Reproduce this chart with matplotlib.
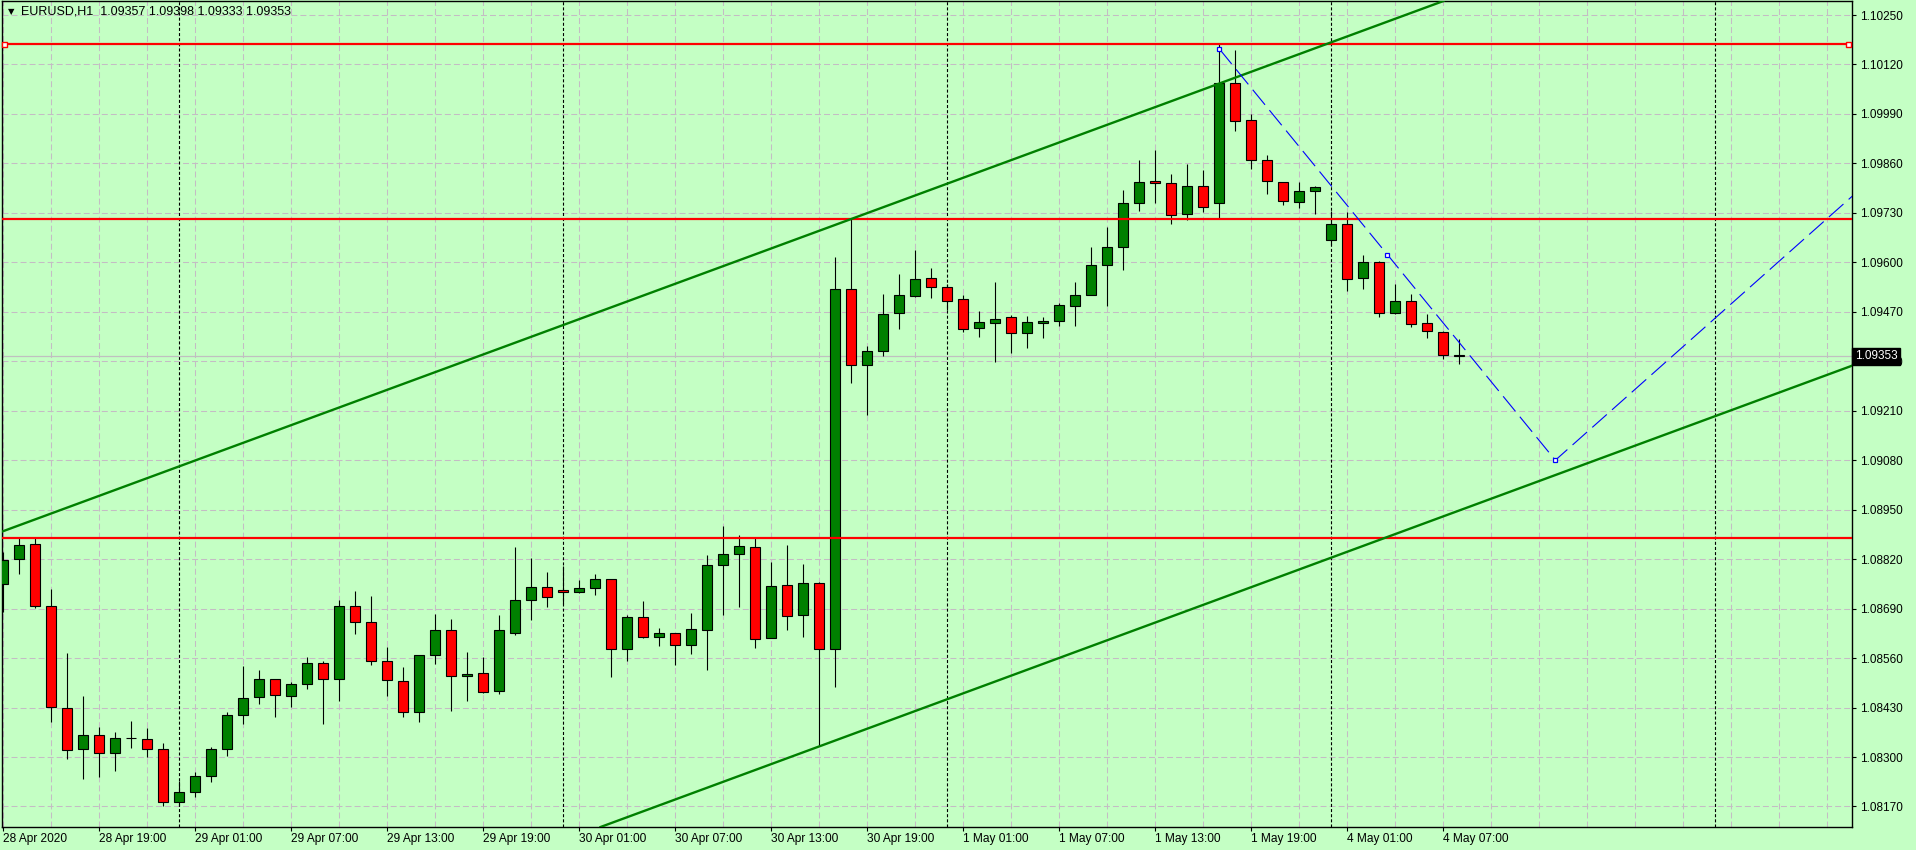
import matplotlib
matplotlib.use('Agg')
import matplotlib.pyplot as plt
import matplotlib.transforms as mtransforms

# EURUSD H1 bars, 28 Apr 13:00 .. 4 May 08:00
opens = [1.08755, 1.08820, 1.08860, 1.08697, 1.08429, 1.08321, 1.08358, 1.08311, 1.08350, 1.08348,
         1.08321, 1.08182, 1.08208, 1.08250, 1.08321, 1.08411, 1.08458, 1.08505, 1.08461, 1.08492,
         1.08547, 1.08505, 1.08697, 1.08655, 1.08553, 1.08500, 1.08419, 1.08568, 1.08634, 1.08513,
         1.08521, 1.08474, 1.08626, 1.08713, 1.08747, 1.08739, 1.08734, 1.08744, 1.08768, 1.08584,
         1.08668, 1.08616, 1.08626, 1.08595, 1.08634, 1.08805, 1.08834, 1.08852, 1.08613, 1.08752,
         1.08673, 1.08757, 1.08583, 1.09530, 1.09330, 1.09367, 1.09467, 1.09512, 1.09559, 1.09535,
         1.09504, 1.09427, 1.09441, 1.09456, 1.09414, 1.09441, 1.09446, 1.09485, 1.09514, 1.09593,
         1.09640, 1.09756, 1.09814, 1.09809, 1.09727, 1.09800, 1.09756, 1.10071, 1.09974, 1.09869,
         1.09811, 1.09758, 1.09787, 1.09659, 1.09701, 1.09559, 1.09601, 1.09467, 1.09498, 1.09441,
         1.09417, 1.09357]
highs = [1.08839, 1.08878, 1.08878, 1.08742, 1.08574, 1.08461, 1.08379, 1.08366, 1.08395, 1.08377,
         1.08337, 1.08236, 1.08261, 1.08327, 1.08419, 1.08540, 1.08529, 1.08505, 1.08497, 1.08563,
         1.08553, 1.08713, 1.08737, 1.08724, 1.08590, 1.08537, 1.08568, 1.08676, 1.08663, 1.08576,
         1.08564, 1.08673, 1.08852, 1.08823, 1.08786, 1.08802, 1.08765, 1.08781, 1.08768, 1.08673,
         1.08710, 1.08639, 1.08626, 1.08679, 1.08831, 1.08907, 1.08884, 1.08878, 1.08813, 1.08857,
         1.08807, 1.08760, 1.09614, 1.09714, 1.09381, 1.09518, 1.09570, 1.09633, 1.09585, 1.09543,
         1.09514, 1.09472, 1.09548, 1.09462, 1.09459, 1.09456, 1.09493, 1.09549, 1.09640, 1.09693,
         1.09790, 1.09869, 1.09895, 1.09832, 1.09858, 1.09842, 1.10175, 1.10158, 1.09990, 1.09883,
         1.09811, 1.09811, 1.09800, 1.09735, 1.09732, 1.09619, 1.09604, 1.09543, 1.09517, 1.09464,
         1.09420, 1.09398]
lows = [1.08680, 1.08780, 1.08691, 1.08391, 1.08294, 1.08242, 1.08247, 1.08263, 1.08323, 1.08299,
        1.08172, 1.08172, 1.08195, 1.08235, 1.08302, 1.08387, 1.08439, 1.08404, 1.08431, 1.08479,
        1.08387, 1.08446, 1.08622, 1.08541, 1.08460, 1.08405, 1.08392, 1.08545, 1.08420, 1.08446,
        1.08469, 1.08466, 1.08621, 1.08659, 1.08694, 1.08702, 1.08731, 1.08725, 1.08511, 1.08552,
        1.08613, 1.08591, 1.08541, 1.08571, 1.08530, 1.08674, 1.08695, 1.08586, 1.08613, 1.08634,
        1.08616, 1.08328, 1.08483, 1.09283, 1.09200, 1.09353, 1.09426, 1.09509, 1.09505, 1.09475,
        1.09417, 1.09405, 1.09337, 1.09361, 1.09374, 1.09400, 1.09433, 1.09434, 1.09514, 1.09484,
        1.09579, 1.09735, 1.09756, 1.09701, 1.09711, 1.09731, 1.09714, 1.09944, 1.09844, 1.09779,
        1.09752, 1.09742, 1.09726, 1.09646, 1.09524, 1.09529, 1.09456, 1.09464, 1.09430, 1.09400,
        1.09346, 1.09333]
closes = [1.08818, 1.08857, 1.08697, 1.08431, 1.08319, 1.08358, 1.08311, 1.08350, 1.08350, 1.08321,
          1.08182, 1.08208, 1.08250, 1.08321, 1.08411, 1.08455, 1.08505, 1.08463, 1.08492, 1.08547,
          1.08505, 1.08697, 1.08655, 1.08553, 1.08503, 1.08419, 1.08568, 1.08634, 1.08513, 1.08518,
          1.08471, 1.08634, 1.08713, 1.08747, 1.08721, 1.08734, 1.08744, 1.08768, 1.08584, 1.08668,
          1.08616, 1.08626, 1.08595, 1.08637, 1.08805, 1.08834, 1.08855, 1.08610, 1.08750, 1.08671,
          1.08757, 1.08584, 1.09530, 1.09330, 1.09367, 1.09464, 1.09514, 1.09556, 1.09535, 1.09498,
          1.09425, 1.09443, 1.09451, 1.09414, 1.09443, 1.09446, 1.09488, 1.09514, 1.09593, 1.09640,
          1.09756, 1.09811, 1.09809, 1.09724, 1.09800, 1.09745, 1.10071, 1.09971, 1.09869, 1.09814,
          1.09761, 1.09787, 1.09798, 1.09701, 1.09556, 1.09601, 1.09467, 1.09498, 1.09438, 1.09420,
          1.09356, 1.09353]

price_ticks = [1.08170, 1.08300, 1.08430, 1.08560, 1.08690, 1.08820, 1.08950, 1.09080,
               1.09210, 1.09340, 1.09470, 1.09600, 1.09730, 1.09860, 1.09990, 1.10120, 1.10250]
time_bars = [0, 6, 12, 18, 24, 30, 36, 42, 48, 54, 60, 66, 72, 78, 84, 90]
time_labels = ['28 Apr 2020', '28 Apr 19:00', '29 Apr 01:00', '29 Apr 07:00', '29 Apr 13:00',
               '29 Apr 19:00', '30 Apr 01:00', '30 Apr 07:00', '30 Apr 13:00', '30 Apr 19:00',
               '1 May 01:00', '1 May 07:00', '1 May 13:00', '1 May 19:00', '4 May 01:00', '4 May 07:00']
day_separators = [11, 35, 59, 83, 107]

hlevels = [1.10175, 1.09714, 1.08875]
upper_bars, upper_prices = [53, 76], [1.09714, 1.10070]
lower_bars, lower_prices = [51, 91], [1.08328, 1.08948]
zz_bars, zz_prices = [76, 97, 120], [1.10161, 1.09080, 1.09940]
last_price = 1.09353
title = 'EURUSD,H1  1.09357 1.09398 1.09333 1.09353'

bg = '#C4FFC4'
plt.rcParams['lines.scale_dashes'] = False
plt.rcParams['font.family'] = ['Liberation Sans', 'DejaVu Sans']

fig = plt.figure(figsize=(19.16, 8.5), dpi=100, facecolor=bg)
ax = fig.add_axes([2 / 1916, 23 / 850, 1850 / 1916, 826 / 850])
ax.set_facecolor(bg)
ax.set_xlim(-0.08, 115.54)
ax.set_ylim(1.081161, 1.102868)

# grid
for b in range(0, 116, 3):
    ax.axvline(b, color='#C4BCC4', lw=0.75, dashes=(4.3, 2.2), zorder=0.5)
for p in price_ticks:
    ax.axhline(p, color='#C4BCC4', lw=0.75, dashes=(4.3, 2.2), zorder=0.5)
for b in day_separators:
    ax.axvline(b, color='black', lw=0.8, dashes=(2.2, 1.5), zorder=0.6)

ax.axhline(last_price, color='#C0C0C0', lw=0.9, zorder=0.7)

# candles
n = len(opens)
xs = list(range(n))
ax.vlines(xs, lows, highs, color='black', lw=0.8, zorder=2)
bottoms = [min(o, c) for o, c in zip(opens, closes)]
heights = [abs(c - o) for o, c in zip(opens, closes)]
colors = ['#008000' if c >= o else '#FF0000' for o, c in zip(opens, closes)]
ax.bar(xs, heights, width=0.64, bottom=bottoms, color=colors, edgecolor='black',
       linewidth=0.8, zorder=3)

# objects
for p in hlevels:
    ax.axhline(p, color='#FF0000', lw=1.6, zorder=4)
ax.plot([0.05, 115.3], [hlevels[0]] * 2, ls='none', marker='s', ms=3.6,
        mfc='white', mec='#FF0000', mew=1, zorder=6, clip_on=False)

ax.axline((upper_bars[0], upper_prices[0]), (upper_bars[1], upper_prices[1]),
          color='#008000', lw=1.7, zorder=4)
ax.axline((lower_bars[0], lower_prices[0]), (lower_bars[1], lower_prices[1]),
          color='#008000', lw=1.7, zorder=4)

ax.plot(zz_bars, zz_prices, color='#0000FF', lw=0.8, dashes=(14, 5), zorder=5)
mid_b = (zz_bars[0] + zz_bars[1]) / 2
mid_p = (zz_prices[0] + zz_prices[1]) / 2
ax.plot([zz_bars[0], mid_b, zz_bars[1]], [zz_prices[0], mid_p, zz_prices[1]], ls='none',
        marker='s', ms=3.4, mfc='white', mec='#0000FF', mew=0.9, zorder=6)

# axes
for s in ax.spines.values():
    s.set_color('black')
    s.set_linewidth(1.0)
ax.yaxis.tick_right()
ax.set_yticks(price_ticks)
ax.set_yticklabels([f'{p:.5f}' for p in price_ticks])
ax.tick_params(axis='y', direction='out', length=3, width=0.8, pad=3, labelsize=8.5,
               colors='black')
ax.set_xticks(time_bars)
ax.set_xticklabels(time_labels)
for lbl in ax.get_xticklabels():
    lbl.set_horizontalalignment('left')
ax.tick_params(axis='x', direction='out', length=3, width=0.8, pad=1.5, labelsize=8.6,
               colors='black')

trans = mtransforms.blended_transform_factory(ax.transAxes, ax.transData)
ax.text(1.0015, last_price, f'{last_price:.5f}', transform=trans, va='center', ha='left',
        color='white', fontsize=8.5, clip_on=False, zorder=10,
        bbox=dict(boxstyle='square,pad=0.2', fc='black', ec='black'))

fig.text(11 / 1916, 1 - 12 / 850, '\u25BC', fontsize=6, ha='center', va='center',
         family='DejaVu Sans')
fig.text(21 / 1916, 1 - 12 / 850, title, fontsize=9, ha='left', va='center')

fig.savefig('out.png', dpi=100, facecolor=bg)
